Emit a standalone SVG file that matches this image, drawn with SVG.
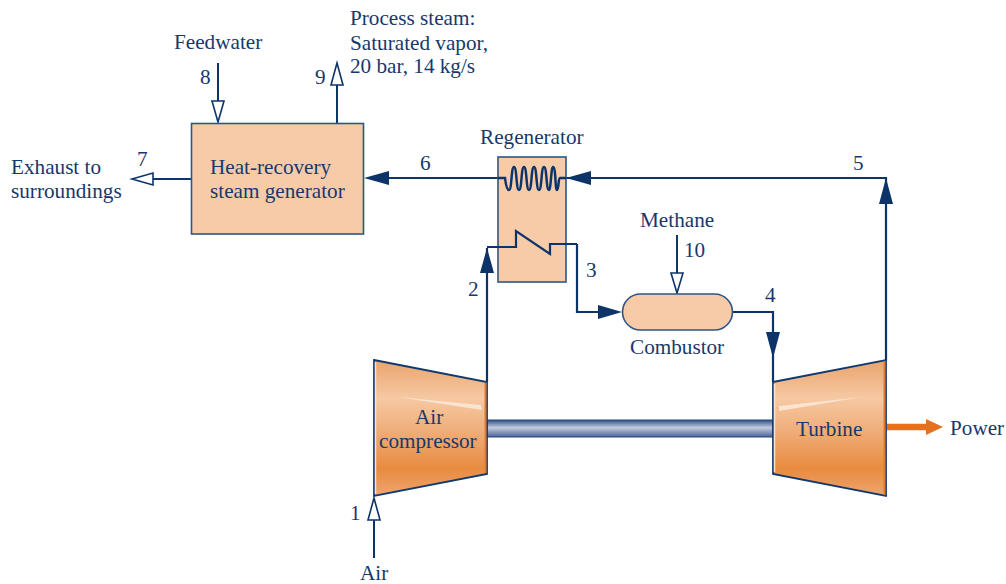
<svg xmlns="http://www.w3.org/2000/svg" width="1006" height="584" viewBox="0 0 1006 584">
<style>
text{font-family:"Liberation Serif","Times New Roman",serif;font-size:21.200px;fill:#17386b}
.box{fill:#f7cba8;stroke:#2f5585;stroke-width:1.6}
.ln{fill:none;stroke:#0d3468;stroke-width:2.2}
.thin{fill:none;stroke:#0d3468;stroke-width:2}
.solid{fill:#0d3468;stroke:none}
.hollow{fill:#fff;stroke:#0d3468;stroke-width:1.6}
.mach{fill:url(#orange);stroke:#0f3a6e;stroke-width:1.8;stroke-linejoin:miter}
.hi{fill:#fbe3d0}
</style>
<defs>
<linearGradient id="orange" x1="0" y1="0" x2="0" y2="1">
<stop offset="0" stop-color="#e9a36c"/><stop offset="0.28" stop-color="#f6c9a3"/><stop offset="0.55" stop-color="#eeaa74"/><stop offset="0.8" stop-color="#e98b40"/><stop offset="0.92" stop-color="#ec9a5c"/><stop offset="1" stop-color="#eda773"/>
</linearGradient>
<linearGradient id="steel" x1="0" y1="0" x2="0" y2="1">
<stop offset="0" stop-color="#2e4f86"/><stop offset="0.45" stop-color="#c3cbdf"/><stop offset="1" stop-color="#4a6397"/>
</linearGradient>
</defs>
<g id="connectors">
<path class="ln" d="M487 382V248"/>
<path class="ln" d="M886 360V178H566"/>
<path class="ln" d="M498 178H386"/>
<path class="ln" d="M577 244V312H600"/>
<path class="ln" d="M732 312H773V382"/>
<path class="thin" d="M218 63V102"/>
<path class="thin" d="M337 123V85"/>
<path class="thin" d="M191 179H153"/>
<path class="thin" d="M677 235V273"/>
<path class="thin" d="M374 558V520"/>
<polygon class="solid" points="487,248 480,273 494,273"/>
<polygon class="solid" points="886,178 879,204 893,204"/>
<polygon class="solid" points="566,178 591,171 591,185"/>
<polygon class="solid" points="364,178 389,171 389,185"/>
<polygon class="solid" points="622,312 598,305 598,319"/>
<polygon class="solid" points="773,358 766,332 780,332"/>
<polygon class="hollow" points="218,122 212,101 224,101"/>
<polygon class="hollow" points="337,63 331,85 343,85"/>
<polygon class="hollow" points="132,179 153,173 153,185"/>
<polygon class="hollow" points="677,293 671,273 683,273"/>
<polygon class="hollow" points="374,498 368,520 380,520"/>
<path d="M887 427H928" fill="none" stroke="#e4711f" stroke-width="6.500"/>
<polygon points="943,427 926,419 926,435" fill="#e4711f"/>
</g>
<g id="hrsg">
<rect class="box" x="191.500" y="123.500" width="172" height="110.500"/>
<text x="210" y="174">Heat-recovery</text>
<text x="210" y="198">steam generator</text>
</g>
<g id="regenerator">
<rect class="box" x="498" y="157" width="68" height="125"/>
<path class="ln" style="stroke-width:2.500" d="M498 178H505C506 186 507 190 509 190C512 190 511 167 514 167C517 167 516 190 519 190C522 190 521 167 524 167C527 167 526 190 529 190C532 190 531 167 534 167C537 167 536 190 539 190C542 190 541 167 544 167C547 167 546 190 549 190C551 190 551 167 553 167C556 167 555 190 557 190C559 190 558 178 560 178H566"/>
<path class="ln" d="M487 247H516V231L550 254V244H577"/>
<text x="480" y="144">Regenerator</text>
</g>
<g id="combustor">
<rect class="box" x="622.500" y="294" width="110" height="36" rx="18" ry="18"/>
<text x="630" y="354">Combustor</text>
</g>
<g id="shaft">
<rect x="487" y="420" width="286" height="17" fill="url(#steel)" stroke="#26497f" stroke-width="1"/>
</g>
<g id="compressor">
<polygon class="mach" points="374,360 487,382 487,474 374,496"/>
<path d="M375.500 362V494" stroke="#fbe3d0" stroke-width="1.500" fill="none"/>
<path d="M485.500 383V473" stroke="#e07a30" stroke-width="2" fill="none"/>
<path class="hi" d="M398 397L481 405 482 410Z"/>
<text x="415" y="424">Air</text>
<text x="379" y="448">compressor</text>
</g>
<g id="turbine">
<polygon class="mach" points="773,382 886,360 886,496 773,474"/>
<path d="M774.500 384V472" stroke="#fbe3d0" stroke-width="1.500" fill="none"/>
<path d="M884.500 361V495" stroke="#e07a30" stroke-width="2" fill="none"/>
<path class="hi" d="M779 406L862 397 779 411Z"/>
<text x="796" y="436">Turbine</text>
</g>
<g id="labels">
<text x="174" y="49">Feedwater</text>
<text x="200" y="84">8</text>
<text x="315" y="84">9</text>
<text x="350" y="25">Process steam:</text>
<text x="350" y="50">Saturated vapor,</text>
<text x="350" y="73">20 bar, 14 kg/s</text>
<text x="11" y="174">Exhaust to</text>
<text x="11" y="198">surroundings</text>
<text x="137" y="166">7</text>
<text x="420" y="170">6</text>
<text x="853" y="170">5</text>
<text x="640" y="227">Methane</text>
<text x="684" y="257">10</text>
<text x="586" y="277">3</text>
<text x="468" y="296">2</text>
<text x="765" y="302">4</text>
<text x="350" y="520">1</text>
<text x="360" y="580">Air</text>
<text x="950" y="435">Power</text>
</g>
</svg>
